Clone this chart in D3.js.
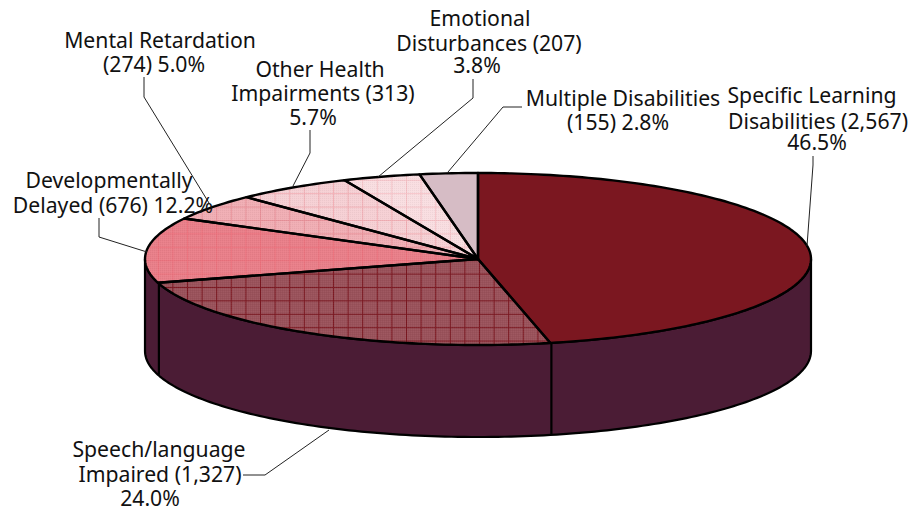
<!DOCTYPE html>
<html><head><meta charset="utf-8">
<script src="https://cdn.jsdelivr.net/npm/d3@7"></script>
<style>html,body{margin:0;background:#fff}svg{display:block}text{font-family:"Noto Sans",sans-serif;font-size:21.2px;fill:#111}</style>
</head><body><svg id="c" width="911" height="512"></svg>
<script>
const categories=["Specific Learning Disabilities","Speech/language Impaired","Developmentally Delayed","Mental Retardation","Other Health Impairments","Emotional Disturbances","Multiple Disabilities"];
const counts=[2567,1327,676,274,313,207,155];
const colours=["#7b1720","#9a525b","#e97f89","#f0aeb4","#f6d0d4","#f9dee1","#d6bcc5"];
const gridColours=[null,"#7b1720","#ec727d","#e9929a","#f2afb5","#f6c2c7",null];
const sideColour="#4b1c35";
const labelLines=[
 ["Specific Learning","Disabilities (2,567)","46.5%"],
 ["Speech/language","Impaired (1,327)","24.0%"],
 ["Developmentally","Delayed (676) 12.2%"],
 ["Mental Retardation","(274) 5.0%"],
 ["Other Health","Impairments (313)","5.7%"],
 ["Emotional","Disturbances (207)","3.8%"],
 ["Multiple Disabilities","(155) 2.8%"]];
const labelX=[[812,818,817],[159,160,150],[109,113],[160,154],[320,323,313],[480,489,477],[623,618]];
const labelY=[[103,129,150],[457,482,506],[188,213],[48,72],[77,101,125],[26,51,73],[106,130]];
const leaders=[
 [[807,246],[813,165],[813,156]],
 [[329,430],[265,475],[243,475]],
 [[147,252],[99,237],[99,218]],
 [[209,203],[144,97],[144,77]],
 [[293,186],[310,153],[310,130]],
 [[378,177],[473,98],[473,79]],
 [[448,172],[503,107],[522,107]]];

const svg=d3.select("#c");
const sx=d3.scaleLinear().domain([-1,1]).range([145,811]);
const sy=d3.scaleLinear().domain([-1,1]).range([173,345]);
const depth=92;
const px=a=>sx(Math.sin(a)), py=a=>sy(-Math.cos(a));
const arcs=d3.pie().sort(null).value(d=>d)(counts);

const defs=svg.append("defs");
const tw=14.6,th=13.4;
colours.forEach((c,i)=>{
 const p=defs.append("pattern").attr("id","p"+i).attr("patternUnits","userSpaceOnUse")
  .attr("width",tw).attr("height",th).attr("x",11.8).attr("y",5.6);
 p.append("rect").attr("width",tw).attr("height",th).attr("fill",c);
 if(gridColours[i]){
  p.append("path").attr("d",`M0 .5H${tw}M.5 0V${th}`).attr("stroke",gridColours[i]).attr("stroke-width",1).attr("fill","none");
 }
});
const sp=defs.append("pattern").attr("id","speckle").attr("patternUnits","userSpaceOnUse").attr("width",2).attr("height",2);
sp.append("rect").attr("width",1).attr("height",1).attr("fill","#000").attr("opacity",.04);
sp.append("rect").attr("x",1).attr("y",1).attr("width",1).attr("height",1).attr("fill","#fff").attr("opacity",.04);

const line=d3.line();
function arcPts(a0,a1,dy=0){
 const n=Math.max(2,Math.ceil(Math.abs(a1-a0)/0.02));
 return d3.range(n+1).map(k=>{const a=a0+(a1-a0)*k/n;return [px(a),py(a)+dy];});
}
const sideG=svg.append("g");
const aL=Math.PI/2,aR=3*Math.PI/2;
const wall=arcPts(aL,aR).concat(arcPts(aR,aL,depth));
sideG.append("path").attr("d",line(wall)+"Z").attr("fill",sideColour).attr("stroke","#000").attr("stroke-width",2.2).attr("stroke-linejoin","round");
arcs.forEach(d=>{
 const a=d.endAngle;
 if(a>aL&&a<aR){
  sideG.append("path").attr("d",line([[px(a)+1,py(a)],[px(a)+1,py(a)+depth]])).attr("stroke","#000").attr("stroke-width",2.2);
 }
});
const c0=[sx(0),sy(0)];
const sliceD=d=>line([c0].concat(arcPts(d.startAngle,d.endAngle)))+"Z";
const topG=svg.append("g");
topG.selectAll("path.f").data(arcs).join("path").attr("class","f").attr("d",sliceD).attr("fill",(d,i)=>`url(#p${i})`);
topG.selectAll("path.s").data(arcs).join("path").attr("class","s").attr("d",sliceD)
 .attr("fill",(d,i)=>gridColours[i]?"url(#speckle)":"none")
 .attr("stroke","#000").attr("stroke-width",2.4).attr("stroke-linejoin","round");
svg.append("g").selectAll("path").data(leaders).join("path")
 .attr("d",d=>line(d)).attr("fill","none").attr("stroke","#222").attr("stroke-width",1);
const t=svg.append("g").selectAll("g").data(labelLines).join("g");
t.each(function(d,i){
 d3.select(this).selectAll("text").data(d).join("text")
  .attr("text-anchor","middle").attr("x",(l,j)=>labelX[i][j]).attr("y",(l,j)=>labelY[i][j]).text(l=>l);
});
</script></body></html>
